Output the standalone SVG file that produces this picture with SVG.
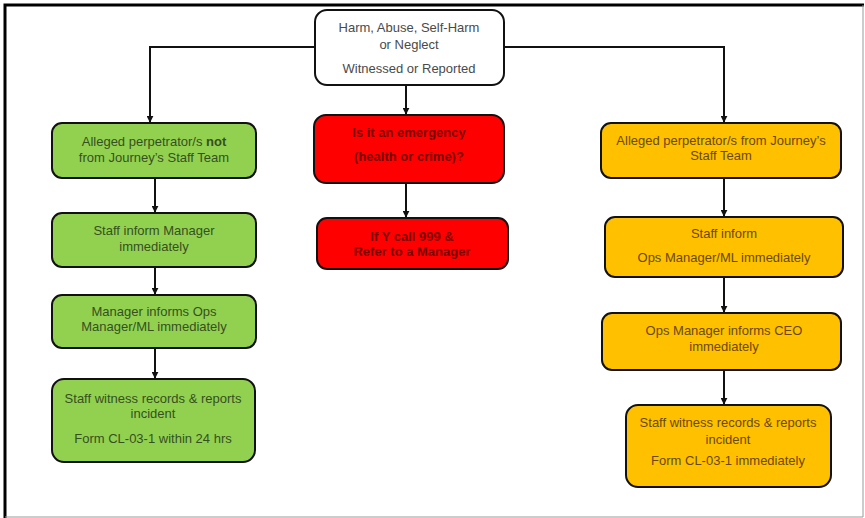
<svg xmlns="http://www.w3.org/2000/svg" width="865" height="518" viewBox="0 0 865 518">
<style>
.t{font-family:"Liberation Sans",Arial,sans-serif;font-size:13px;text-anchor:middle}
.box{stroke:#111;stroke-width:2}
.g{fill:#92D050}.gt{fill:#35501f}
.r{fill:#FF0000}.rt{fill:#7a0000;font-weight:bold}
.o{fill:#FFC000}.ot{fill:#6b4a00}
.w{fill:#fff}.wt{fill:#4a4a4a}
.c{stroke:#111;stroke-width:2;fill:none}
</style>
<defs>
<marker id="ah" viewBox="0 0 10 10" refX="9" refY="5" markerWidth="7" markerHeight="7" orient="auto" markerUnits="userSpaceOnUse">
<path d="M0,0 L10,5 L0,10 z" fill="#111"/>
</marker>
</defs>
<rect x="0" y="0" width="865" height="518" fill="#fff"/>
<path d="M5,518 V5 H864" fill="none" stroke="#000" stroke-width="3"/>
<path d="M863,5 V517 H5" fill="none" stroke="#999" stroke-width="1"/>
<g id="connectors">
<path class="c" d="M315,47 H150 V122" marker-end="url(#ah)"/>
<path class="c" d="M504,47 H724 V122" marker-end="url(#ah)"/>
<path class="c" d="M406,85 V114" marker-end="url(#ah)"/>
<path class="c" d="M406,183 V217" marker-end="url(#ah)"/>
<path class="c" d="M155,178 V212" marker-end="url(#ah)"/>
<path class="c" d="M155,267 V294" marker-end="url(#ah)"/>
<path class="c" d="M155,348 V378" marker-end="url(#ah)"/>
<path class="c" d="M724,178 V216" marker-end="url(#ah)"/>
<path class="c" d="M724,277 V312" marker-end="url(#ah)"/>
<path class="c" d="M724,370 V404" marker-end="url(#ah)"/>
</g>
<g id="start">
<rect class="box w" x="315" y="10" width="189" height="75" rx="12"/>
<text class="t wt" x="409" y="32">Harm, Abuse, Self-Harm</text>
<text class="t wt" x="409" y="49">or Neglect</text>
<text class="t wt" x="409" y="73">Witnessed or Reported</text>
</g>
<g id="g1">
<rect class="box g" x="52" y="123" width="204" height="55" rx="10"/>
<text class="t gt" x="154" y="146">Alleged perpetrator/s <tspan font-weight="bold">not</tspan></text>
<text class="t gt" x="154" y="162">from Journey’s Staff Team</text>
</g>
<g id="g2">
<rect class="box g" x="52" y="213" width="204" height="54" rx="10"/>
<text class="t gt" x="154" y="235">Staff inform Manager</text>
<text class="t gt" x="154" y="251">immediately</text>
</g>
<g id="g3">
<rect class="box g" x="52" y="295" width="204" height="53" rx="10"/>
<text class="t gt" x="154" y="316">Manager informs Ops</text>
<text class="t gt" x="154" y="331">Manager/ML immediately</text>
</g>
<g id="g4">
<rect class="box g" x="52" y="379" width="203" height="83" rx="12"/>
<text class="t gt" x="153" y="403">Staff witness records &amp; reports</text>
<text class="t gt" x="153" y="418">incident</text>
<text class="t gt" x="153" y="443">Form CL-03-1 within 24 hrs</text>
</g>
<g id="r1">
<rect class="box r" x="314" y="115" width="190" height="68" rx="12"/>
<text class="t rt" x="409" y="137">Is it an emergency</text>
<text class="t rt" x="409" y="161">(health or crime)?</text>
</g>
<g id="r2">
<rect class="box r" x="317" y="218" width="191" height="51" rx="10"/>
<text class="t rt" x="412" y="241">If Y call 999 &amp;</text>
<text class="t rt" x="412" y="256">Refer to a Manager</text>
</g>
<g id="o1">
<rect class="box o" x="601" y="123" width="240" height="55" rx="10"/>
<text class="t ot" x="721" y="145">Alleged perpetrator/s from Journey’s</text>
<text class="t ot" x="721" y="160">Staff Team</text>
</g>
<g id="o2">
<rect class="box o" x="605" y="217" width="238" height="60" rx="10"/>
<text class="t ot" x="724" y="238">Staff inform</text>
<text class="t ot" x="724" y="262">Ops Manager/ML immediately</text>
</g>
<g id="o3">
<rect class="box o" x="602" y="313" width="239" height="57" rx="10"/>
<text class="t ot" x="724" y="335">Ops Manager informs CEO</text>
<text class="t ot" x="724" y="351">immediately</text>
</g>
<g id="o4">
<rect class="box o" x="626" y="405" width="205" height="82" rx="12"/>
<text class="t ot" x="728" y="427">Staff witness records &amp; reports</text>
<text class="t ot" x="728" y="444">incident</text>
<text class="t ot" x="728" y="465">Form CL-03-1 immediately</text>
</g>
</svg>
